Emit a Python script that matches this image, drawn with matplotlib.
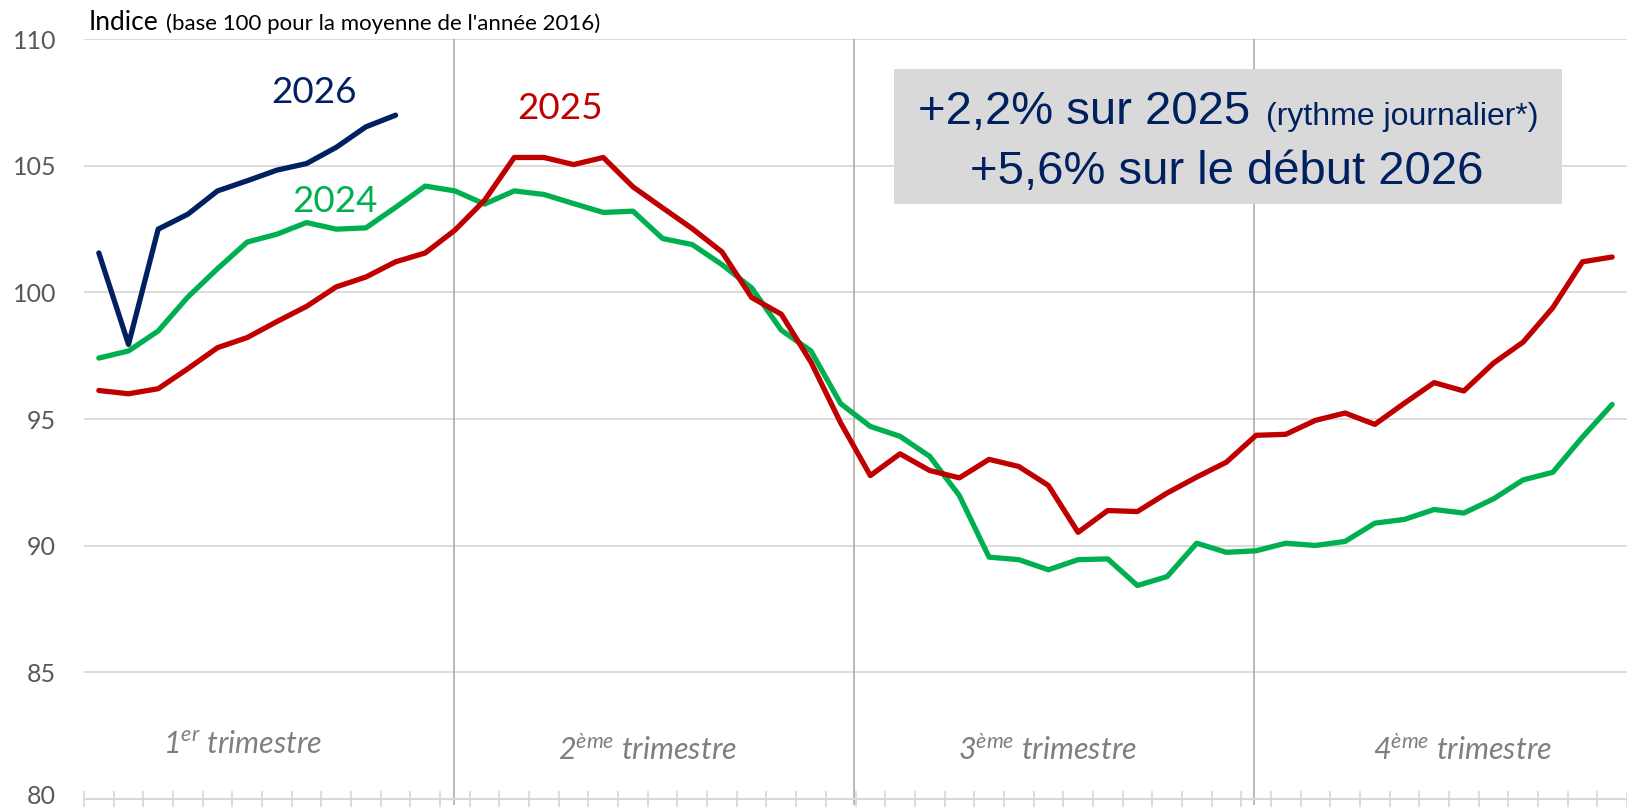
import matplotlib
matplotlib.use("Agg")
import matplotlib.pyplot as plt
import matplotlib.transforms as mtransforms
from matplotlib.patches import Rectangle
import numpy as np

# semaines de l'année (indice 0..51)
semaines = list(range(52))

# indice hebdomadaire, base 100 = moyenne 2016
idx_2024 = [97.41, 97.69, 98.48, 99.82, 100.94, 101.99, 102.30, 102.76, 102.50, 102.55,
            103.36, 104.20, 104.01, 103.49, 104.01, 103.87, 103.51, 103.16, 103.21, 102.13,
            101.89, 101.10, 100.18, 98.51, 97.69, 95.61, 94.71, 94.32, 93.53, 91.98,
            89.55, 89.45, 89.05, 89.45, 89.48, 88.43, 88.78, 90.10, 89.74, 89.80,
            90.10, 90.01, 90.17, 90.89, 91.04, 91.43, 91.29, 91.85, 92.60, 92.90,
            94.29, 95.58]
idx_2025 = [96.13, 96.00, 96.20, 96.99, 97.82, 98.22, 98.85, 99.45, 100.22, 100.61,
            101.21, 101.56, 102.46, 103.64, 105.33, 105.33, 105.05, 105.33, 104.17, 103.34,
            102.52, 101.60, 99.80, 99.14, 97.25, 94.85, 92.77, 93.63, 92.97, 92.68,
            93.41, 93.13, 92.38, 90.53, 91.39, 91.35, 92.08, 92.71, 93.30, 94.36,
            94.40, 94.95, 95.24, 94.79, 95.63, 96.44, 96.11, 97.21, 98.04, 99.40,
            101.21, 101.40]
idx_2026 = [101.56, 97.95, 102.50, 103.09, 104.01, 104.41, 104.83, 105.09, 105.73, 106.54,
            107.00]

# séparations des trimestres (en semaines)
limites_trim = [11.97, 25.46, 38.93]
trim_labels = [r"1$^{\mathit{er}}$ trimestre", r"2$^{\mathit{ème}}$ trimestre",
               r"3$^{\mathit{ème}}$ trimestre", r"4$^{\mathit{ème}}$ trimestre"]
trim_x = [4.84, 18.5, 31.96, 45.94]
trim_y = [82.14, 81.94, 81.94, 81.94]

yticks = [80, 85, 90, 95, 100, 105, 110]

c24, c25, c26 = "#00B050", "#C00000", "#002060"
grid_c = "#d9d9d9"

plt.rcParams["font.family"] = ["Lato", "DejaVu Sans"]
plt.rcParams["mathtext.fontset"] = "custom"
plt.rcParams["mathtext.it"] = "Lato:italic"
plt.rcParams["mathtext.rm"] = "Lato"

fig = plt.figure(figsize=(16.27, 8.09), dpi=100)
ax = fig.add_axes([84 / 1627, 10 / 809, (1627 - 84) / 1627, 759.8 / 809])
ax.set_xlim(-0.5, 51.05)
ax.set_ylim(80, 110)

# grille horizontale
for y in yticks[1:]:
    ax.axhline(y, color=grid_c, lw=1.3, zorder=1)

# lignes verticales de trimestre
ax.vlines(limites_trim, 79.75, 110, color="#a6a6a6", lw=1.1, zorder=1, clip_on=False)

line_kw = dict(lw=3.8, solid_capstyle="round", solid_joinstyle="round", zorder=3)
ax.plot(semaines, idx_2024, color=c24, **line_kw)
ax.plot(semaines, idx_2025, color=c25, **line_kw)
ax.plot(semaines[:len(idx_2026)], idx_2026, color=c26, **line_kw)

ax.text(7.25, 107.88, "2026", color=c26, fontsize=26.5, ha="center", va="center")
ax.text(7.95, 103.58, "2024", color=c24, fontsize=26.5, ha="center", va="center")
ax.text(15.55, 107.27, "2025", color=c25, fontsize=26.5, ha="center", va="center")

for x, y, lab in zip(trim_x, trim_y, trim_labels):
    ax.text(x, y, lab, color="#7f7f7f", fontsize=22, style="italic",
            ha="center", va="center")

# axes
for s in ["top", "right", "left"]:
    ax.spines[s].set_visible(False)
ax.spines["bottom"].set_color(grid_c)
ax.spines["bottom"].set_linewidth(1.5)
ax.set_xticks(np.arange(-0.5, 52, 1))
ax.tick_params(axis="x", direction="inout", length=11, width=1.3, color=grid_c,
               labelbottom=False)
ax.set_yticks(yticks)
ax.set_yticklabels([str(v) for v in yticks])
ax.tick_params(axis="y", length=0, pad=20, labelsize=18, labelcolor="#595959")
for t in ax.get_yticklabels():
    t.set_verticalalignment("center_baseline")
# le libellé 80 touche le bord bas : on le remonte un peu
lab80 = ax.get_yticklabels()[0]
lab80.set_transform(lab80.get_transform() +
                    mtransforms.ScaledTranslation(0, 5 / 100, fig.dpi_scale_trans))

# titre de l'axe
fig.text(89 / 1627, 1 - 30 / 809, "Indice", fontsize=19, color="#000000",
         ha="left", va="baseline")
fig.text(166 / 1627, 1 - 30 / 809, "(base 100 pour la moyenne de l'année 2016)",
         fontsize=16, color="#000000", ha="left", va="baseline")

# encadré
fig.patches.append(Rectangle((894 / 1627, 1 - 203.5 / 809), 668 / 1627, 135 / 809,
                             transform=fig.transFigure, facecolor="#d9d9d9",
                             edgecolor="none", zorder=0))
fig.text(918 / 1627, 1 - 124.5 / 809, "+2,2% sur 2025", fontsize=34, color=c26,
         family="Liberation Sans", ha="left", va="baseline")
fig.text(1538 / 1627, 1 - 124.5 / 809, "(rythme journalier*)", fontsize=23, color=c26,
         family="Liberation Sans", ha="right", va="baseline")
fig.text(1226.5 / 1627, 1 - 183.7 / 809, "+5,6% sur le début 2026", fontsize=34,
         color=c26, family="Liberation Sans", ha="center", va="baseline")

fig.savefig("out.png", dpi=100)
